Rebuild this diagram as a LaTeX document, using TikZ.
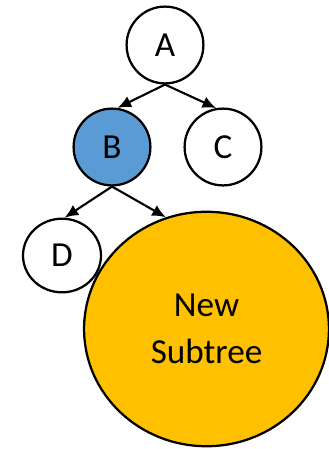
\documentclass[tikz,border=0pt]{standalone}
\usepackage{fontspec}
\setmainfont{Carlito}
\usetikzlibrary{arrows.meta,shapes,positioning}
\definecolor{nodeblue}{RGB}{91,155,213}
\definecolor{subtreegold}{RGB}{255,192,0}
\tikzset{
        treenode/.style={align=center,inner sep=0pt,draw=black,line width=1.6pt,font=\fontsize{25}{33}\selectfont},
        % Untouched nodes
        node_plain/.style={treenode, circle, fill=white, minimum size=1.92cm},
        % Node where the subtree hangs
        node_marked/.style={treenode, circle, fill=nodeblue, minimum size=1.92cm},
        % Small leaf
        node_leaf/.style={treenode, ellipse, fill=white, minimum width=1.95cm, minimum height=1.84cm},
        % Inserted subtree
        node_subtree/.style={treenode, ellipse, fill=subtreegold, minimum width=6.12cm, minimum height=5.86cm},
        % Parent to child links
        link/.style={-{Latex[length=3.4mm,width=3mm]}, line width=1.5pt}
}

\begin{document}
\begin{tikzpicture}[x=0.025cm, y=-0.025cm]
    \useasboundingbox (0,0) rectangle (329,449);
    \node[node_plain]   (A) at (165,45)    {A};
    \node[node_marked]  (B) at (112,147)   {B};
    \node[node_plain]   (C) at (223,147)   {C};
    \node[node_leaf]    (D) at (62,255.5)  {D};
    \node[node_subtree] (S) at (206.5,329) {New\\Subtree};

    \draw[link] (A.south) -- (B.82);
    \draw[link] (A.south) -- (C.100);
    \draw[link] (B.south) -- (D.86);
    \draw[link] (B.south) -- (S.110);
\end{tikzpicture}
\end{document}
